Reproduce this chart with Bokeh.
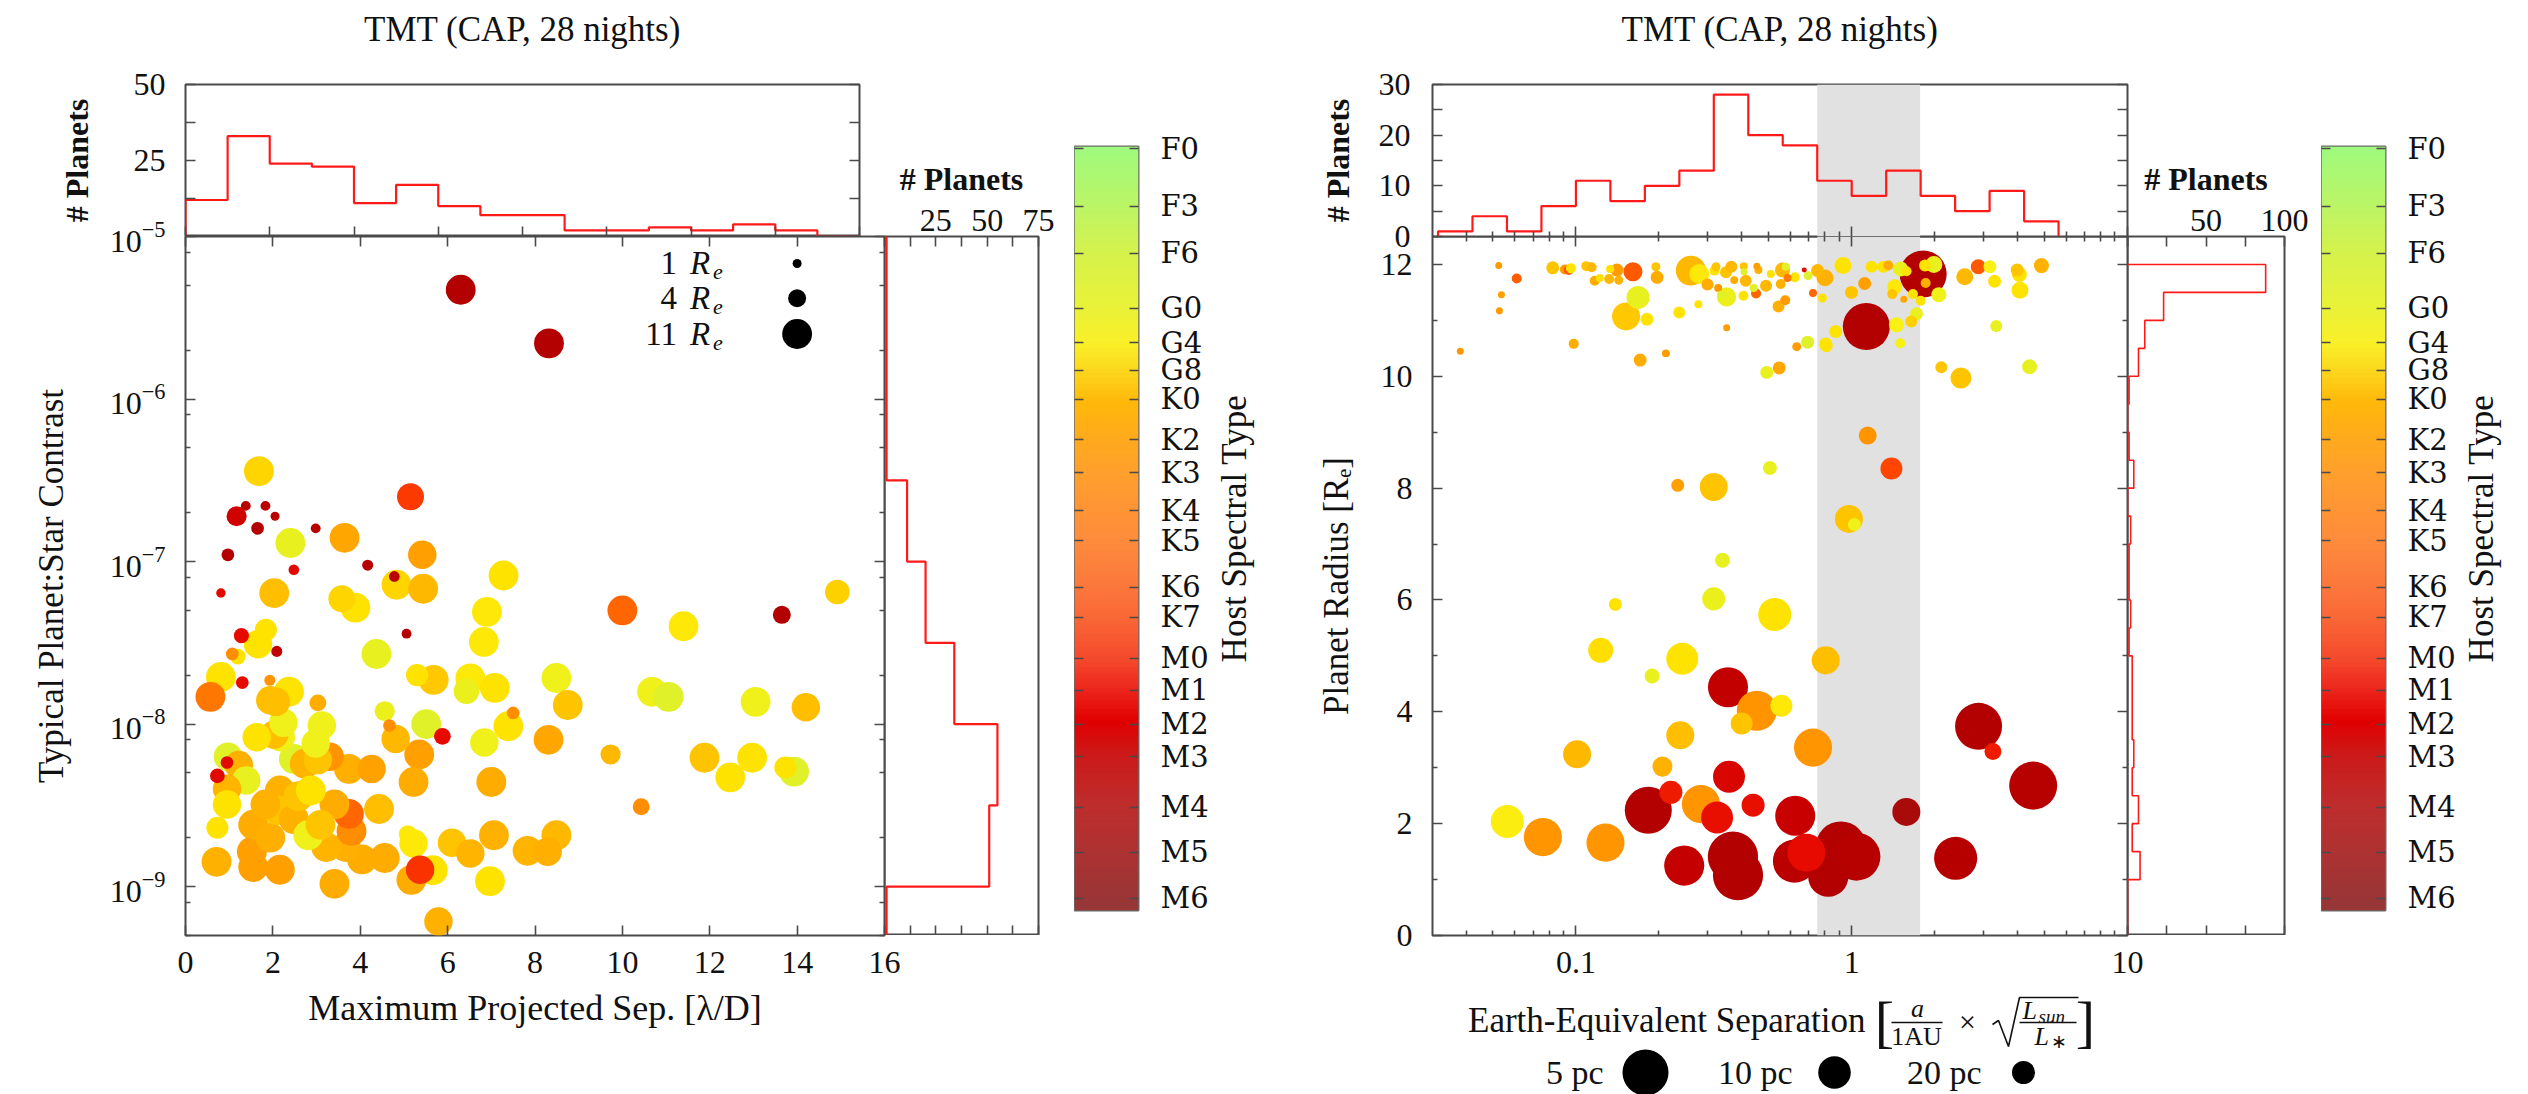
import numpy as np
from bokeh.plotting import figure
from bokeh.models import (Range1d, LinearAxis, FixedTicker, ColumnDataSource,
                          LinearColorMapper, BoxAnnotation)
from bokeh.layouts import row, column
from bokeh.transform import linear_cmap
from bokeh.embed import file_html
from bokeh.resources import INLINE
from bokeh.core.properties import value

# ======================= DATA =======================
panel_title = "TMT (CAP, 28 nights)"
cbar_title = "Host Spectral Type"

spt_labels = ["F0", "F3", "F6", "G0", "G4", "G8", "K0", "K2", "K3", "K4", "K5",
              "K6", "K7", "M0", "M1", "M2", "M3", "M4", "M5", "M6"]
spt_pos = [99.7, 92.2, 86.0, 78.8, 74.3, 70.7, 66.9, 61.6, 57.3, 52.3, 48.4,
           42.3, 38.4, 33.0, 28.8, 24.4, 20.1, 13.5, 7.6, 1.6]

# ---- left panel: contrast vs projected separation ----
sep_L = [6.30, 8.32, 1.68, 5.15, 1.17, 1.38, 1.83, 2.05, 1.65, 2.98,
         2.40, 3.64, 5.42, 0.97, 4.17, 2.48, 4.78, 4.83, 5.44, 7.28,
         0.81, 2.03, 3.58, 3.89, 14.92, 10.0, 13.65, 11.4, 6.90, 6.83,
         1.84, 1.28, 1.66, 5.06, 4.37, 2.09, 1.07, 1.20, 0.81, 1.30,
         1.93, 2.37, 0.57, 1.94, 3.03, 5.30, 5.68, 6.52, 6.43, 7.08,
         8.49, 10.68, 11.06, 13.05, 14.2, 8.75,
         4.56, 4.67, 5.51, 5.88, 7.50, 7.39, 8.31, 6.84, 4.81, 5.35,
         5.22, 7.0, 9.73, 11.88, 12.47, 12.97, 13.73, 13.93, 10.43, 4.43,
         6.1, 6.52, 7.06, 7.83, 8.49, 8.29, 5.22, 5.09, 5.37, 5.66,
         5.17, 6.97, 5.79, 3.41, 4.56, 4.04, 3.67, 3.22, 3.80, 3.74,
         3.41, 4.26, 3.74, 3.30, 3.03, 2.98, 3.12, 2.48, 2.73, 2.18,
         2.03, 2.24, 1.63, 2.07, 0.97, 0.95, 0.73, 1.22, 1.39, 0.95,
         0.95, 0.73, 0.71, 1.52, 1.55, 2.16, 1.55, 1.94, 2.16, 2.10,
         2.48, 2.81, 2.59, 3.09, 2.87, 1.83]
contrast_L = [4.7e-6, 2.2e-6, 3.6e-7, 2.5e-7, 1.9e-7, 2.2e-7, 2.2e-7, 1.9e-7, 1.6e-7, 1.6e-7,
              1.3e-7, 1.4e-7, 1.1e-7, 1.1e-7, 9.5e-8, 8.9e-8, 8.1e-8, 7.2e-8, 6.8e-8, 8.2e-8,
              6.4e-8, 6.4e-8, 5.9e-8, 5.2e-8, 6.5e-8, 5.0e-8, 4.7e-8, 4.0e-8, 4.9e-8, 3.2e-8,
              3.8e-8, 3.5e-8, 3.1e-8, 3.6e-8, 2.7e-8, 2.8e-8, 2.7e-8, 2.6e-8, 1.95e-8, 1.8e-8,
              1.86e-8, 1.58e-8, 1.47e-8, 1.4e-8, 1.35e-8, 2.0e-8, 1.87e-8, 1.91e-8, 1.59e-8, 1.67e-8,
              1.92e-8, 1.58e-8, 1.47e-8, 1.37e-8, 1.27e-8, 1.31e-8,
              1.2e-8, 9.8e-9, 1.0e-8, 8.4e-9, 1.17e-8, 9.7e-9, 8.0e-9, 7.7e-9, 8.1e-9, 6.5e-9,
              4.4e-9, 4.4e-9, 6.5e-9, 6.2e-9, 4.7e-9, 6.2e-9, 5.4e-9, 5.1e-9, 3.1e-9, 3.0e-9,
              1.86e-9, 1.6e-9, 2.07e-9, 1.66e-9, 2.07e-9, 1.64e-9, 1.84e-9, 2.1e-9, 1.27e-9, 1.26e-9,
              1.1e-9, 1.08e-9, 6.1e-10, 1.04e-9, 1.5e-9, 1.47e-9, 1.75e-9, 1.75e-9, 2.2e-9, 2.8e-9,
              3.2e-9, 5.3e-9, 5.3e-9, 6.3e-9, 6.0e-9, 7.6e-9, 9.8e-9, 6.1e-9, 5.7e-9, 8.3e-9,
              8.6e-9, 1.02e-8, 8.3e-9, 1.37e-8, 6.3e-9, 5.8e-9, 4.8e-9, 5.6e-9, 4.5e-9, 4.0e-9,
              3.2e-9, 2.3e-9, 1.42e-9, 1.64e-9, 1.32e-9, 1.27e-9, 2.4e-9, 2.0e-9, 3.9e-9, 2.95e-9,
              2.6e-9, 2.07e-9, 3.6e-9, 2.4e-9, 3.9e-9, 3.2e-9]
radius_L = [11, 11, 11, 9, 5, 1.2, 1.2, 1.0, 2, 1.2,
            11, 11, 10, 2, 1.5, 1.4, 1.4, 11, 11, 11,
            1.1, 11, 9, 11, 7.5, 11, 4, 11, 11, 11,
            6, 2.8, 10, 1.2, 11, 1.5, 2, 3, 11, 2,
            1.5, 11, 11, 10, 3.5, 6, 11, 11, 8, 11,
            11, 11, 11, 11, 10, 11,
            5, 2, 11, 3.5, 2, 11, 11, 10, 10, 11,
            11, 11, 5, 11, 11, 11, 6, 11, 3.5, 11,
            10, 10, 11, 11, 11, 10, 10, 4, 10, 11,
            11, 11, 10, 11, 11, 11, 11, 11, 11, 11,
            11, 10, 11, 10, 10, 10, 10, 11, 11, 10,
            10, 10, 10, 10, 10, 2, 2.7, 10, 10, 10,
            10, 6, 11, 11, 11, 11, 11, 11, 11, 11,
            11, 11, 11, 11, 11, 11]
spt_L = [8, 8, 71, 33, 20, 10, 12, 12, 8, 10,
         80, 60, 57, 8, 10, 24, 10, 71, 66, 73,
         24, 67, 71, 73, 70, 40, 8, 74, 74, 74,
         73, 25, 73, 10, 80, 15, 50, 73, 73, 25,
         52, 73, 43, 67, 62, 73, 69, 74, 79, 73,
         78, 78, 82, 78, 67, 68,
         79, 50, 82, 25, 50, 73, 60, 78, 66, 57,
         62, 62, 66, 68, 73, 73, 73, 82, 50, 67,
         68, 65, 64, 65, 66, 63, 74, 74, 32, 73,
         62, 73, 64, 62, 62, 62, 63, 65, 50, 40,
         62, 58, 63, 52, 68, 78, 78, 82, 65, 78,
         67, 78, 73, 67, 82, 24, 24, 64, 80, 65,
         73, 73, 64, 57, 57, 57, 62, 63, 64, 68,
         64, 78, 68, 68, 73, 64]

hist_sep_edges = [0, 1, 2, 3, 4, 5, 6, 7, 8, 9, 10, 11, 12, 13, 14, 15, 16]
hist_sep_counts = [12, 33, 24, 23, 11, 17, 10, 7, 7, 2, 2, 3, 2, 4, 2, 0]
hist_con_edges_log = [-9.5, -9.0, -8.5, -8.0, -7.5, -7.0, -6.5, -6.0, -5.5, -5.0]
hist_con_counts = [1, 51, 55, 34, 20, 11, 1, 1, 1]

# ---- right panel: planet radius vs Earth-equivalent separation ----
eesep_R = [0.0381, 0.0525, 0.0610, 0.0537, 0.0528, 0.0982, 0.0824, 0.0912, 0.0942, 0.0959,
           0.109, 0.114, 0.117, 0.122, 0.132, 0.133, 0.143, 0.141, 0.161, 0.168,
           0.152, 0.181, 0.195, 0.197, 0.212, 0.171, 0.237, 0.261, 0.280, 0.278,
           0.322, 0.318, 0.300, 0.328, 0.352, 0.336, 0.350, 0.366, 0.375, 0.352,
           0.406, 0.407, 0.413, 0.405, 0.450, 0.441, 0.453, 0.459, 0.489, 0.509,
           0.553, 0.561, 0.577, 0.585, 0.574, 0.543, 0.632, 0.692, 0.546, 0.492,
           0.622, 0.673, 0.695, 0.724, 0.752, 0.783, 0.805,
           0.800, 0.929, 0.998, 1.114, 1.180, 1.303, 1.358, 1.503, 1.581, 1.816,
           1.845, 1.986, 1.854, 1.432, 1.403, 1.545, 1.667, 1.778, 2.070, 1.718,
           1.644, 1.452, 1.130, 0.875, 0.809, 1.50, 2.570, 2.877, 3.170, 3.296,
           3.981, 4.055, 4.074, 4.875, 3.342, 2.113, 2.489, 4.416,
           1.143, 1.393, 0.505, 0.234, 0.316, 0.977, 1.023, 0.340, 0.316, 0.139,
           0.526, 0.123, 0.243, 0.805,
           0.189, 0.356, 0.453, 0.556, 0.399, 0.239, 0.101, 0.724, 2.884, 3.251,
           4.550, 0.206, 0.359, 0.221, 0.284, 0.439, 0.183, 0.325, 0.624, 1.578,
           0.0564, 0.0759, 0.128, 0.247, 0.371, 0.387, 0.620, 0.685, 0.914, 0.822,
           1.040, 2.382]
prad_R = [10.45, 11.98, 11.75, 11.46, 11.17, 10.58, 11.94, 11.91, 11.90, 11.93,
          11.97, 11.95, 11.71, 11.76, 11.74, 11.92, 11.72, 11.90, 11.87, 11.41,
          11.07, 11.02, 11.96, 11.77, 10.41, 10.29, 11.14, 11.89, 11.83, 11.29,
          11.96, 11.89, 11.64, 11.58, 11.42, 11.46, 11.86, 11.96, 11.72, 10.87,
          11.97, 11.87, 11.71, 11.44, 11.48, 11.58, 11.97, 11.90, 11.62, 11.83,
          11.65, 11.90, 11.96, 11.76, 11.36, 11.25, 10.53, 10.61, 10.15, 10.07,
          11.77, 11.90, 11.80, 11.49, 11.89, 11.40, 10.58,
          11.76, 11.98, 11.50, 11.66, 11.96, 11.96, 11.98, 11.92, 11.88, 11.83,
          11.98, 12.00, 11.67, 11.60, 11.47, 11.38, 11.47, 11.35, 11.46, 11.12,
          10.98, 10.92, 10.89, 10.80, 10.55, 10.59, 11.78, 11.96, 11.96, 11.70,
          11.90, 11.82, 11.54, 11.98, 10.90, 10.16, 9.97, 10.17,
          8.94, 8.35, 8.36, 8.05, 8.02, 7.45, 7.35, 6.71, 6.02, 5.92,
          5.74, 5.10, 4.95, 4.92,
          4.64, 4.44, 4.02, 4.11, 3.79, 3.58, 3.24, 3.36, 3.74, 3.29,
          2.68, 3.02, 2.84, 2.56, 2.35, 2.33, 2.24, 2.11, 2.14, 2.21,
          2.04, 1.76, 1.66, 1.25, 1.41, 1.08, 1.33, 1.48, 1.59, 1.05,
          1.41, 1.38]
dist_R = [216, 216, 106, 216, 216, 106, 63, 106, 106, 106,
          106, 106, 106, 166, 106, 166, 130, 63, 29, 20,
          13.5, 63, 130, 63, 166, 63, 74, 11.8, 26.5, 166,
          130, 106, 74, 166, 29, 166, 74, 74, 166, 216,
          166, 216, 74, 106, 106, 166, 216, 166, 74, 166,
          106, 47, 166, 166, 106, 74, 130, 63, 63, 63,
          106, 424, 130, 166, 63, 130, 63,
          37, 37, 63, 63, 74, 74, 106, 47, 106, 4.8,
          74, 37, 106, 47, 106, 216, 106, 106, 47, 63,
          74, 47, 4.8, 63, 63, 106, 37, 47, 63, 63,
          63, 47, 37, 47, 74, 74, 24, 47,
          33, 22, 54, 63, 13.5, 13.5, 63, 47, 20, 63,
          9.7, 17, 10.4, 13.5,
          47, 6.6, 6.6, 22, 22, 13.5, 13.5, 7.3, 4.8, 37,
          4.6, 26.5, 10.4, 20, 7.3, 20, 4.8, 10.4, 6.6, 13.5,
          9.7, 7.3, 7.3, 6.6, 4.2, 4.2, 5.7, 7.3, 4.2, 6.6,
          4.6, 5.7]
spt_R = [54, 55, 39, 58, 55, 62, 68, 55, 38, 73,
         68, 66, 62, 73, 66, 73, 64, 56, 38, 80,
         69, 73, 68, 62, 56, 62, 73, 66, 74, 73,
         68, 73, 62, 55, 79, 82, 68, 66, 62, 56,
         68, 82, 66, 73, 40, 82, 56, 64, 66, 73,
         64, 66, 82, 44, 55, 63, 56, 82, 60, 80,
         73, 25, 82, 40, 66, 73, 73,
         64, 73, 68, 57, 73, 73, 62, 80, 73, 8,
         73, 80, 63, 74, 68, 60, 73, 73, 78, 80,
         70, 76, 8, 73, 73, 76, 66, 38, 76, 73,
         68, 73, 73, 64, 80, 68, 68, 80,
         52, 35, 80, 57, 68, 68, 78, 80, 79, 73,
         73, 72, 73, 67,
         80, 16, 52, 74, 68, 67, 66, 53, 8, 28,
         10, 64, 22, 28, 53, 26, 8, 26, 18, 4,
         75, 53, 53, 17, 8, 8, 12, 25, 8, 8,
         10, 9]

hist_ees_edges_log = [-1.5, -1.375, -1.25, -1.125, -1.0, -0.875, -0.75, -0.625, -0.5, -0.375,
                      -0.25, -0.125, 0.0, 0.125, 0.25, 0.375, 0.5, 0.625, 0.75]
hist_ees_counts = [1, 4, 1, 6, 11, 7, 10, 13, 28, 20, 18, 11, 8, 13, 8, 5, 9, 3]
hist_rad_edges = [0.0, 0.5, 1.0, 1.5, 2.0, 2.5, 3.0, 3.5, 4.0, 4.5, 5.0, 5.5, 6.0,
                  6.5, 7.0, 7.5, 8.0, 8.5, 9.0, 9.5, 10.0, 10.5, 11.0, 11.5, 12.0]
hist_rad_counts = [0, 0, 8, 3, 7, 3, 4, 3, 3, 3, 1, 2, 1, 1, 2, 0, 4, 1, 0, 1, 7, 11, 23, 88]
hz_range = (0.75, 1.77)

legend_radii = [1, 4, 11]
legend_dist = [5, 10, 20]

# ======================= STYLE =======================
SERIF = "Liberation Serif"
HEAVY = "DejaVu Serif"
AX = "#4a4a4a"
HIST = "#ff1a1a"


def build_palette(pos, rgb, n=256):
    t = np.linspace(0, 100, n)
    cols = []
    chans = [np.interp(t, pos, [c[k] for c in rgb]) for k in range(3)]
    for i in range(n):
        cols.append("#%02x%02x%02x" % (int(chans[0][i]), int(chans[1][i]), int(chans[2][i])))
    return cols


pt_palette = build_palette(
    [0, 8, 18, 25, 30, 34, 39, 45, 54, 65, 69, 73, 76, 80, 86, 100],
    [(160, 20, 20), (180, 0, 0), (200, 0, 0), (230, 10, 0), (245, 40, 0), (255, 64, 0),
     (255, 96, 0), (255, 128, 0), (255, 152, 0), (255, 180, 0), (255, 200, 0), (255, 228, 0),
     (250, 240, 20), (232, 240, 32), (210, 242, 60), (160, 248, 120)])
cb_palette = build_palette(
    [0, 7.8, 13.6, 20.3, 24.6, 29, 33, 38.5, 42.4, 48.5, 57.4, 61.7, 66.7, 70.8, 74.2, 78.7, 86, 92, 100],
    [(150, 55, 55), (175, 50, 50), (190, 45, 45), (205, 25, 25), (225, 0, 0), (238, 40, 30),
     (245, 75, 45), (250, 105, 55), (252, 120, 60), (255, 140, 60), (255, 160, 45), (255, 170, 30),
     (255, 185, 10), (252, 215, 30), (250, 240, 40), (235, 242, 55), (215, 242, 75), (190, 245, 100),
     (160, 250, 125)])


def make_fig(w, h, bl, br, bt, bb, xr, yr, x_type="linear", y_type="linear",
             x_loc="below", y_loc="left"):
    p = figure(width=w, height=h, x_range=xr, y_range=yr, x_axis_type=x_type, y_axis_type=y_type,
               x_axis_location=x_loc, y_axis_location=y_loc, output_backend="svg",
               toolbar_location=None, min_border_left=bl, min_border_right=br,
               min_border_top=bt, min_border_bottom=bb)
    p.border_fill_color = None
    p.background_fill_color = None
    p.outline_line_color = AX
    p.outline_line_width = 2
    p.grid.visible = False
    return p


def text_canvas(w, h, bl, br, xr, yr):
    """Plain drawing area (no axes) used for free-standing texts."""
    p = make_fig(w, h, bl, br, 0, 0, xr, yr)
    p.xaxis.visible = False
    p.yaxis.visible = False
    p.outline_line_color = None
    return p


def style_axis(ax, show=True, size="32px", standoff=18, font=SERIF):
    ax.axis_line_color = None
    ax.major_tick_in = 10
    ax.major_tick_out = 0
    ax.minor_tick_in = 5
    ax.minor_tick_out = 0
    ax.major_tick_line_color = AX
    ax.minor_tick_line_color = AX
    ax.major_tick_line_width = 1.6
    ax.minor_tick_line_width = 1.6
    ax.major_label_text_font = font
    if show:
        ax.major_label_text_color = "#111111"
        ax.major_label_text_font_size = size
        ax.major_label_standoff = standoff
    else:
        ax.major_label_text_color = None
        ax.major_label_text_font_size = "1px"
        ax.major_label_standoff = 0
    ax.axis_label_text_font = SERIF
    ax.axis_label_text_font_style = "normal"
    ax.axis_label_text_color = "#111111"
    ax.axis_label_text_font_size = "35px"


def mirror(p, side, ticker):
    ax = LinearAxis(ticker=ticker)
    style_axis(ax, show=False)
    p.add_layout(ax, side)
    return ax


def step_outline(edges, counts):
    a = [edges[0]]
    b = [0]
    for i, c in enumerate(counts):
        a += [edges[i], edges[i + 1]]
        b += [c, c]
    a.append(edges[-1])
    b.append(0)
    return a, b


def txt(p, x, y, s, size, align="center", baseline="middle", style="normal", xo=0, yo=0,
        angle=0, font=SERIF):
    p.text(x=[x], y=[y], text=[s], text_font=value(font), text_font_size=f"{size}px",
           text_align=align, text_baseline=baseline, text_font_style=style,
           x_offset=xo, y_offset=yo, text_color="#111111", angle=angle, angle_units="deg")


# ======================= LEFT PANEL =======================
xL = Range1d(0, 16)
yL = Range1d(5e-10, 1e-5)
sep_ticks = FixedTicker(ticks=[0, 2, 4, 6, 8, 10, 12, 14, 16])
dec_ticks = [1e-9, 1e-8, 1e-7, 1e-6, 1e-5]
con_minor = [m * d for d in [1e-10, 1e-9, 1e-8, 1e-7, 1e-6] for m in (2, 5, 8)]
con_ticker = FixedTicker(ticks=dec_ticks, minor_ticks=con_minor)

titleL = text_canvas(884, 60, 185, 0, Range1d(0, 1), Range1d(0, 60))
txt(titleL, 0.5, 31, panel_title, 35)

# top histogram
tophistL = make_fig(884, 176, 185, 0, 24, 0, xL, Range1d(0, 50))
style_axis(tophistL.xaxis[0], show=False)
tophistL.xaxis[0].ticker = sep_ticks
ylt = FixedTicker(ticks=[0, 25, 50], minor_ticks=[12.5, 37.5])
style_axis(tophistL.yaxis[0], standoff=20)
tophistL.yaxis[0].ticker = ylt
tophistL.yaxis[0].minor_tick_in = 10
tophistL.yaxis[0].major_label_overrides = {0: ""}
tophistL.yaxis[0].axis_label = "# Planets"
tophistL.yaxis[0].axis_label_text_font_style = "bold"
tophistL.yaxis[0].axis_label_text_font_size = "32px"
tophistL.yaxis[0].axis_label_standoff = 36
m = mirror(tophistL, "right", ylt)
m.minor_tick_in = 10
hx, hy = step_outline(hist_sep_edges, hist_sep_counts)
tophistL.line(hx, hy, line_color=HIST, line_width=2.2)

# main scatter
mainL = make_fig(909, 882, 185, 25, 24, 159, xL, yL, y_type="log")
mainL.margin = (-24, 0, 0, 0)
style_axis(mainL.xaxis[0], standoff=16)
mainL.xaxis[0].ticker = sep_ticks
mainL.xaxis[0].axis_label = "Maximum Projected Sep. [λ/D]"
mainL.xaxis[0].axis_label_text_font_size = "36px"
mainL.xaxis[0].axis_label_standoff = 12
style_axis(mainL.yaxis[0], standoff=20)
mainL.yaxis[0].ticker = con_ticker
mainL.yaxis[0].axis_label = "Typical Planet:Star Contrast"
mainL.yaxis[0].axis_label_standoff = 36
mirror(mainL, "above", sep_ticks)
mirror(mainL, "right", con_ticker)

oL = np.argsort(-np.array(radius_L), kind="stable")
srcL = ColumnDataSource(dict(
    x=np.array(sep_L)[oL], y=np.array(contrast_L)[oL],
    size=9.0 * np.sqrt(np.array(radius_L, dtype=float)[oL]), spt=np.array(spt_L)[oL]))
mainL.scatter("x", "y", size="size", source=srcL, line_color=None,
              fill_color=linear_cmap("spt", pt_palette, 0, 100))

# size legend (upper right of the frame)
leg_y = [10 ** -5.166, 10 ** -5.38, 10 ** -5.60]
leg_dot_x = 14.0
leg_txt_x = 11.25
mainL.scatter(x=[leg_dot_x] * 3, y=leg_y, size=[9.0 * np.sqrt(r) for r in legend_radii],
              fill_color="black", line_color=None)
for r, yy in zip(legend_radii, leg_y):
    txt(mainL, leg_txt_x, yy, str(r), 33, align="right")
    txt(mainL, leg_txt_x, yy, "R", 33, align="left", style="italic", xo=13)
    txt(mainL, leg_txt_x, yy, "e", 22, align="left", style="italic", xo=36, yo=9)

# right histogram
rhistL = make_fig(190, 935, 0, 36, 236, 0, Range1d(0, 75), yL, y_type="log", x_loc="above")
rhistL.yaxis.visible = False
xrt = FixedTicker(ticks=[0, 25, 50, 75], minor_ticks=[12.5, 37.5, 62.5])
style_axis(rhistL.xaxis[0], standoff=6)
rhistL.xaxis[0].ticker = xrt
rhistL.xaxis[0].minor_tick_in = 10
rhistL.xaxis[0].major_label_overrides = {0: ""}
rhistL.xaxis[0].axis_label = "# Planets"
rhistL.xaxis[0].axis_label_text_font_style = "bold"
rhistL.xaxis[0].axis_label_text_font_size = "32px"
rhistL.xaxis[0].axis_label_standoff = 10
m = mirror(rhistL, "below", xrt)
m.minor_tick_in = 10
ey, cx = step_outline([10 ** e for e in hist_con_edges_log], hist_con_counts)
rhistL.line(cx, ey, line_color=HIST, line_width=2.2)


# colour bars
def make_cbar(width):
    cb = make_fig(width, 935, 0, width - 64, 146, 25, Range1d(0, 1), Range1d(0, 100), y_loc="right")
    cb.outline_line_color = "#6a6a6a"
    cb.xaxis.visible = False
    tk = FixedTicker(ticks=spt_pos)
    style_axis(cb.yaxis[0], size="29px", standoff=22, font=HEAVY)
    cb.yaxis[0].ticker = tk
    cb.yaxis[0].major_tick_in = 9
    cb.yaxis[0].major_label_overrides = {p_: l_ for p_, l_ in zip(spt_pos, spt_labels)}
    m_ = mirror(cb, "left", tk)
    m_.major_tick_in = 9
    grad = np.linspace(0, 100, 400).reshape(400, 1)
    cb.image(image=[grad], x=0, y=0, dw=1, dh=100,
             color_mapper=LinearColorMapper(palette=cb_palette, low=0, high=100), level="image")
    return cb


def make_cbar_title(width, xc):
    t = text_canvas(width, 935, 0, 0, Range1d(0, width), Range1d(0, 935))
    txt(t, xc, 935 - 528, cbar_title, 35, angle=90)
    return t


cbarL = make_cbar(139)
cbtL = make_cbar_title(51, 21)

# ======================= RIGHT PANEL =======================
xR = Range1d(10 ** -1.52, 10)
yR = Range1d(0, 12.5)
ees_ticker = FixedTicker(ticks=[0.1, 1, 10],
                         minor_ticks=[0.04, 0.05, 0.06, 0.07, 0.08, 0.09,
                                      0.2, 0.3, 0.4, 0.5, 0.6, 0.7, 0.8, 0.9,
                                      2, 3, 4, 5, 6, 7, 8, 9])
rad_ticker = FixedTicker(ticks=[0, 2, 4, 6, 8, 10, 12], minor_ticks=[1, 3, 5, 7, 9, 11])


def hz_box():
    return BoxAnnotation(left=hz_range[0], right=hz_range[1], fill_color="#e1e1e1",
                         fill_alpha=1.0, line_color=None, level="underlay")


titleR = text_canvas(888, 60, 168, 25, Range1d(0, 1), Range1d(0, 60))
txt(titleR, 0.5, 31, panel_title, 35)

tophistR = make_fig(888, 200, 168, 25, 24, 24, xR, Range1d(0, 30), x_type="log")
tophistR.add_layout(hz_box())
tophistR.xaxis.visible = False
mirror(tophistR, "below", ees_ticker)
yrt = FixedTicker(ticks=[0, 10, 20, 30], minor_ticks=[5, 15, 25])
style_axis(tophistR.yaxis[0], standoff=22)
tophistR.yaxis[0].ticker = yrt
tophistR.yaxis[0].minor_tick_in = 10
tophistR.yaxis[0].axis_label = "# Planets"
tophistR.yaxis[0].axis_label_text_font_style = "bold"
tophistR.yaxis[0].axis_label_text_font_size = "32px"
tophistR.yaxis[0].axis_label_standoff = 20
m = mirror(tophistR, "right", yrt)
m.minor_tick_in = 10
hx, hy = step_outline([10 ** e for e in hist_ees_edges_log], hist_ees_counts)
tophistR.line(hx, hy, line_color=HIST, line_width=2.2)

mainR = make_fig(888, 754, 168, 25, 0, 55, xR, yR, x_type="log")
mainR.margin = (-24, 0, 0, 0)
mainR.add_layout(hz_box())
style_axis(mainR.xaxis[0], standoff=16)
mainR.xaxis[0].ticker = ees_ticker
mainR.xaxis[0].major_label_overrides = {0.1: "0.1", 1: "1", 10: "10"}
style_axis(mainR.yaxis[0], standoff=20)
mainR.yaxis[0].ticker = rad_ticker
mainR.yaxis[0].axis_label = "Planet Radius [Rₑ]"
mainR.yaxis[0].axis_label_standoff = 22
mirror(mainR, "above", ees_ticker)
mirror(mainR, "right", rad_ticker)

sizeR = 103.0 / np.sqrt(np.array(dist_R, dtype=float))
oR = np.argsort(-sizeR, kind="stable")
srcR = ColumnDataSource(dict(
    x=np.array(eesep_R)[oR], y=np.array(prad_R)[oR], size=sizeR[oR], spt=np.array(spt_R)[oR]))
mainR.scatter("x", "y", size="size", source=srcR, line_color=None,
              fill_color=linear_cmap("spt", pt_palette, 0, 100))

# x-axis label with fraction + distance legend (page-pixel coordinates)
labR = text_canvas(888, 104, 168, 25, Range1d(1432, 2127), Range1d(0, 104))
txt(labR, 1865, 74, "Earth-Equivalent Separation", 35, align="right")
txt(labR, 1884, 73, "[", 58)
txt(labR, 1917, 86, "a", 26, style="italic")
labR.line([1891, 1942], [72, 72], line_color="#111111", line_width=1.5)
txt(labR, 1916, 58, "1AU", 26)
txt(labR, 1967, 73, "×", 30)
labR.line([1992, 1998, 2008, 2019, 2078], [70, 74, 48, 97, 97], line_color="#111111",
          line_width=1.6)
txt(labR, 2022, 84, "L", 26, align="left", style="italic")
txt(labR, 2038, 78, "sun", 19, align="left", style="italic")
labR.line([2019, 2076], [72, 72], line_color="#111111", line_width=1.5)
txt(labR, 2034, 58, "L", 26, align="left", style="italic")
txt(labR, 2050, 53, "∗", 19, align="left")
txt(labR, 2085, 73, "]", 58)
leg_text_x = [1603, 1792, 1981]
leg_dot_x2 = [1645, 1834, 2023]
leg_row_y = 22
for d, tx in zip(legend_dist, leg_text_x):
    txt(labR, tx, leg_row_y, f"{d} pc", 34, align="right")
labR.scatter(x=leg_dot_x2, y=[leg_row_y] * 3, size=[103.0 / np.sqrt(d) for d in legend_dist],
             fill_color="black", line_color=None)

rhistR = make_fig(194, 935, 0, 37, 236, 0, Range1d(0, 100), yR, x_loc="above")
rhistR.yaxis.visible = False
xrt2 = FixedTicker(ticks=[0, 50, 100], minor_ticks=[25, 75])
style_axis(rhistR.xaxis[0], standoff=6)
rhistR.xaxis[0].ticker = xrt2
rhistR.xaxis[0].minor_tick_in = 10
rhistR.xaxis[0].major_label_overrides = {0: ""}
rhistR.xaxis[0].axis_label = "# Planets"
rhistR.xaxis[0].axis_label_text_font_style = "bold"
rhistR.xaxis[0].axis_label_text_font_size = "32px"
rhistR.xaxis[0].axis_label_standoff = 10
m = mirror(rhistR, "below", xrt2)
m.minor_tick_in = 10
ey, cx = step_outline(hist_rad_edges, hist_rad_counts)
rhistR.line(cx, ey, line_color=HIST, line_width=1.6)

cbarR = make_cbar(139)
cbtR = make_cbar_title(65, 21)

layout = row(column(titleL, tophistL, mainL),
             column(rhistL, margin=(0, 0, 0, -25)), column(cbarL), column(cbtL),
             column(titleR, tophistR, mainR, labR),
             column(rhistR, margin=(0, 0, 0, -25)), column(cbarR), column(cbtR))

open("out.html", "w").write(file_html(layout, INLINE))
